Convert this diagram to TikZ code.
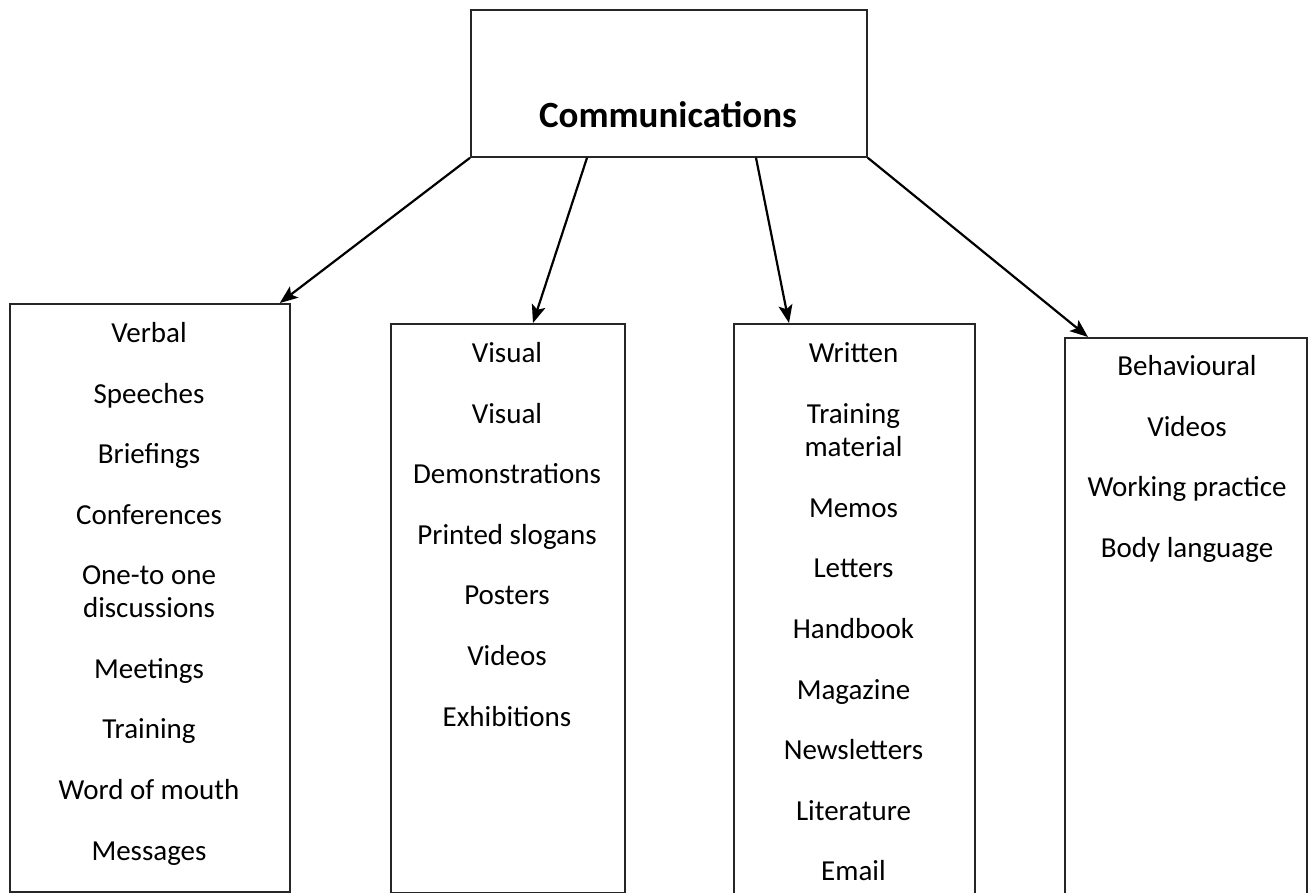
\documentclass[tikz,border=0pt]{standalone}
\usepackage{fontspec}
\setmainfont{Carlito}
\usetikzlibrary{arrows.meta}
\begin{document}
\begin{tikzpicture}[x=1pt,y=1pt,
  box/.style={draw=black!85, line width=1.8pt, inner sep=0pt, anchor=north west},
  lbl/.style={anchor=base, inner sep=0pt, font=\fontsize{29}{35}\selectfont},
  titlelbl/.style={anchor=base, inner sep=0pt, font=\fontsize{37}{44}\selectfont\bfseries},
  arr/.style={line width=2.2pt, -{Stealth[length=18pt,width=14pt,inset=4pt]}}]
\useasboundingbox (0,0) rectangle (1308,-893);
% boxes
\node[box, minimum width=396pt, minimum height=147pt] (top) at (470,-9) {};
\node[box, minimum width=280pt, minimum height=588pt] (verbal) at (9,-303) {};
\node[box, minimum width=234pt, minimum height=569pt] (visual) at (390,-323) {};
\node[box, minimum width=241pt, minimum height=600pt] (written) at (733,-323) {};
\node[box, minimum width=242pt, minimum height=600pt] (behav) at (1064,-337) {};
% title
\node[titlelbl] (ttl) at (668,-128) {Communications};
% texts
\foreach \t/\y [count=\i] in {Verbal/342, Speeches/403, Briefings/463, Conferences/524, One-to one/584, discussions/617, Meetings/678, Training/738, Word of mouth/799, Messages/860}
  \node[lbl] (a\i) at (149,-\y) {\t};
\foreach \t/\y [count=\i] in {Visual/362, Visual/423, Demonstrations/483, Printed slogans/544, Posters/604, Videos/665, Exhibitions/726}
  \node[lbl] (b\i) at (507,-\y) {\t};
\foreach \t/\y [count=\i] in {Written/362, Training/423, material/456, Memos/517, Letters/577, Handbook/638, Magazine/699, Newsletters/759, Literature/820, Email/880}
  \node[lbl] (c\i) at (853.5,-\y) {\t};
\foreach \t/\y [count=\i] in {Behavioural/375, Videos/436, Working practice/496, Body language/557}
  \node[lbl] (d\i) at (1187,-\y) {\t};
% arrows
\draw[arr] (top.south west) -- ([xshift=-11pt]verbal.north east);
\draw[arr] ([xshift=117pt]top.south west) -- ([xshift=143pt]visual.north west);
\draw[arr] ([xshift=286pt]top.south west) -- ([xshift=56pt]written.north west);
\draw[arr] (top.south east) -- ([xshift=24pt]behav.north west);
\end{tikzpicture}
\end{document}
